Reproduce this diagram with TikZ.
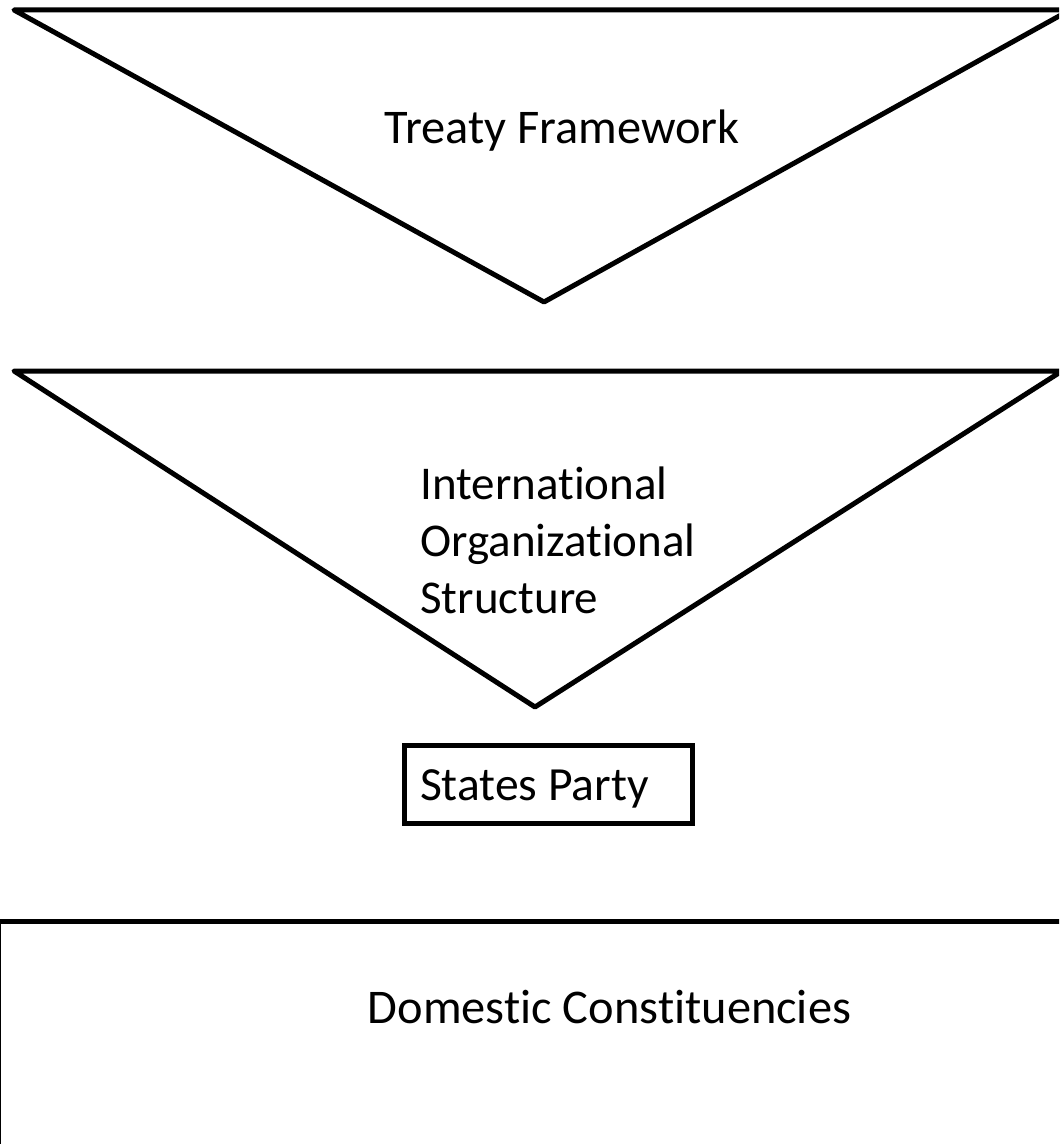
\documentclass[tikz,border=0pt]{standalone}
\usepackage{fontspec}
\setmainfont{Carlito}[Ligatures=NoCommon]

\begin{document}
\begin{tikzpicture}[
    x=0.5pt, y=-0.5pt,
    outline/.style={draw, line width=2.5pt, line join=round},
    tag/.style={font=\fontsize{24.2}{28.5}\selectfont, inner sep=0pt},
    party/.style={draw, line width=2.5pt, font=\fontsize{23.8}{28.5}\selectfont,
        inner xsep=8pt, inner ysep=0pt, minimum height=39pt,
        text height=20pt, text depth=4.5pt}
]
    \useasboundingbox (0,0) rectangle (1059,1144);
    \clip (0,0) rectangle (1059,1144);

    % Treaty layer
    \draw[outline] (14,10) -- (1070,10) -- (544,302) -- cycle;
    \node[tag, anchor=base] (treaty) at (562,144) {Treaty Framework};

    % Organizational layer
    \draw[outline] (14,371) -- (1062,371) -- (535,707) -- cycle;
    \node[tag, font=\fontsize{23.5}{28.5}\selectfont, anchor=north west, align=left]
        (intorg) at (420,466) {International\\Organizational\\Structure};

    % States party
    \node[party, anchor=west] (states) at (401.5,784.5)
        {\makebox[128pt][l]{States Party}};

    % Domestic layer
    \draw[outline] (-1.5,921.5) rectangle (1062,1150);
    \node[tag, anchor=base] (domestic) at (609.5,1023) {Domestic Constituencies};

\end{tikzpicture}
\end{document}
